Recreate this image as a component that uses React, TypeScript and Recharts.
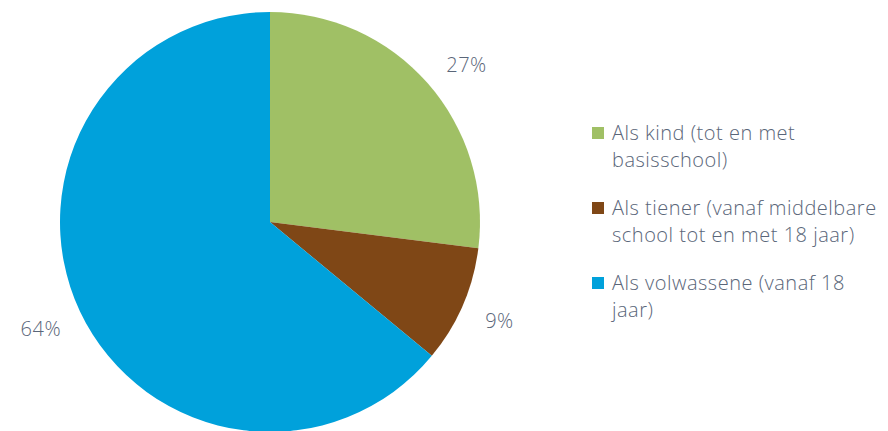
import React from 'react';
import { PieChart, Pie, Cell } from 'recharts';

const categories = [
  'Als kind (tot en met basisschool)',
  'Als tiener (vanaf middelbare school tot en met 18 jaar)',
  'Als volwassene (vanaf 18 jaar)',
];
const values = [27, 9, 64];
const labels = ['27%', '9%', '64%'];
const colors = ['#A0C065', '#7F4716', '#00A1DB'];

const textColor = '#5A6679';
const font = '"Open Sans", sans-serif';

// small hand nudges so the labels sit where the original placed them
const labelNudge = [
  { dx: 9, dy: 8 },
  { dx: 0, dy: -1 },
  { dx: -3, dy: 0 },
];

const data = categories.map((name, i) => ({ name, value: values[i], label: labels[i] }));

const RADIAN = Math.PI / 180;

// label centered on the slice's mid angle, outside the pie
const renderLabel = (props: any) => {
  const { cx, cy, midAngle, index } = props;
  const r = 250;
  const x = cx + r * Math.cos(-midAngle * RADIAN) + labelNudge[index].dx;
  const y = cy + r * Math.sin(-midAngle * RADIAN) + labelNudge[index].dy;
  return (
    <text
      x={x}
      y={y}
      textAnchor="middle"
      dominantBaseline="central"
      fill={textColor}
      fontFamily={font}
      fontWeight={300}
      fontSize={20}
      letterSpacing={0.5}
    >
      {data[index].label}
    </text>
  );
};

const App: React.FC = () => {
  return (
    <div style={{ position: 'absolute', left: 0, top: 0, width: 888, height: 431, background: '#fff' }}>
      <PieChart width={888} height={431} margin={{ top: 0, right: 0, bottom: 0, left: 0 }}>
        <Pie
          data={data}
          dataKey="value"
          cx={270}
          cy={222}
          outerRadius={210}
          startAngle={90}
          endAngle={-270}
          stroke="none"
          label={renderLabel}
          labelLine={false}
          isAnimationActive={false}
        >
          {data.map((d, i) => (
            <Cell key={d.name} fill={colors[i]} />
          ))}
        </Pie>
      </PieChart>
      <div
        style={{
          position: 'absolute',
          left: 592,
          top: 119,
          fontFamily: font,
          fontWeight: 300,
          fontSize: 20,
          letterSpacing: 0.5,
          color: textColor,
          lineHeight: '27px',
        }}
      >
        {data.map((d, i) => (
          <div key={d.name} style={{ display: 'flex', alignItems: 'flex-start', marginBottom: 21 }}>
            <span
              style={{
                display: 'inline-block',
                width: 12,
                height: 12,
                background: colors[i],
                marginTop: 8,
                marginRight: 8,
                flexShrink: 0,
              }}
            />
            <span style={{ width: 276 }}>{d.name}</span>
          </div>
        ))}
      </div>
    </div>
  );
};

export default App;
